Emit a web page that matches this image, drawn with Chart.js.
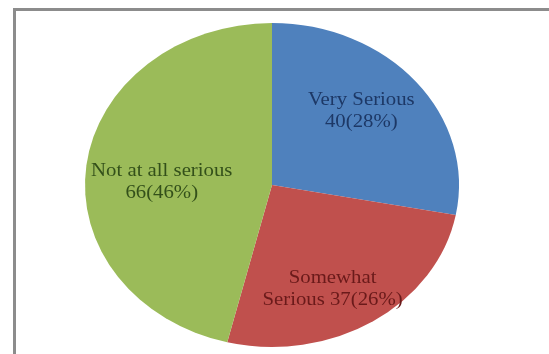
<!DOCTYPE html>
<html><head><meta charset="utf-8">
<script src="https://cdn.jsdelivr.net/npm/chart.js@4"></script>
<style>
html,body{margin:0;padding:0;background:#fff;}
#wrap{position:relative;width:549px;height:354px;overflow:hidden;background:#fff;}
#frame{position:absolute;left:13px;top:8px;width:600px;height:400px;border-top:3px solid #8c8c8c;border-left:3px solid #8c8c8c;}
canvas{position:absolute;left:0;top:0;}
</style></head><body>
<div id="wrap"><div id="frame"></div><canvas id="c" width="549" height="354"></canvas></div>
<script>
const categories = ["Very Serious", "Somewhat Serious", "Not at all serious"];
const values = [40, 37, 66];
const sliceColors = ["#4f81bd", "#c0504d", "#9bbb59"];
const labelColors = ["#1d3866", "#6a1a1a", "#33501a"];
const labelFirstLineWords = [2, 1, 4];
const labelRadius = [0.66, 0.72, 0.59];
const labelAngleShift = [-4, 6, -5];

const SX = 187 / 162; // horizontal stretch of the pie (ellipse)
const total = values.reduce((a, b) => a + b, 0);

const ellipsePlugin = {
  id: 'ellipse',
  beforeDatasetsDraw(chart) {
    const a = chart.getDatasetMeta(0).data[0];
    const ctx = chart.ctx;
    ctx.save();
    ctx.translate(a.x, a.y);
    ctx.scale(SX, 1);
    ctx.translate(-a.x, -a.y);
  },
  afterDatasetsDraw(chart) { chart.ctx.restore(); }
};

const labelPlugin = {
  id: 'pieLabels',
  afterDraw(chart) {
    const ctx = chart.ctx;
    const meta = chart.getDatasetMeta(0);
    meta.data.forEach((arc, i) => {
      const p = arc.getProps(['x', 'y', 'startAngle', 'endAngle', 'outerRadius'], true);
      const mid = (p.startAngle + p.endAngle) / 2 + labelAngleShift[i] * Math.PI / 180;
      const r = p.outerRadius * labelRadius[i];
      const x = p.x + Math.cos(mid) * r * SX;
      const y = p.y + Math.sin(mid) * r;
      const pct = Math.round(values[i] / total * 100);
      const words = (categories[i] + ' ' + values[i] + '(' + pct + '%)').split(' ');
      const lines = [words.slice(0, labelFirstLineWords[i]).join(' '), words.slice(labelFirstLineWords[i]).join(' ')];
      const lh = 22;
      ctx.save();
      ctx.font = '18px "Liberation Serif", "DejaVu Serif", serif';
      ctx.fillStyle = labelColors[i];
      ctx.textAlign = 'center';
      ctx.textBaseline = 'middle';
      lines.forEach((ln, k) => {
        const ly = y + (k - (lines.length - 1) / 2) * lh;
        ctx.save();
        ctx.translate(x, ly);
        ctx.scale(SX, 1);
        ctx.fillText(ln, 0, 0);
        ctx.restore();
      });
      ctx.restore();
    });
  }
};

new Chart(document.getElementById('c'), {
  type: 'pie',
  data: {
    labels: categories,
    datasets: [{
      data: values,
      backgroundColor: sliceColors,
      borderWidth: 0,
      clip: false
    }]
  },
  options: {
    responsive: false,
    animation: false,
    layout: { padding: { left: 110, right: 115, top: 23, bottom: 7 } },
    plugins: { legend: { display: false }, tooltip: { enabled: false } }
  },
  plugins: [ellipsePlugin, labelPlugin]
});
</script>
</body></html>
